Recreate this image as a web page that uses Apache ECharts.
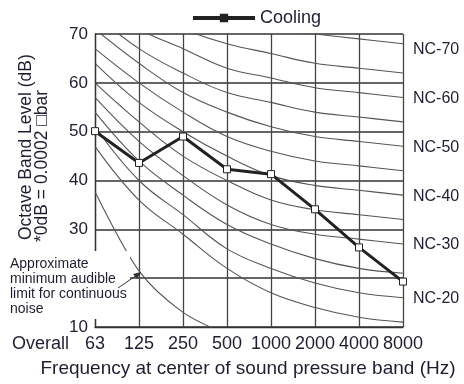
<!DOCTYPE html>
<html><head><meta charset="utf-8">
<script src="https://cdn.jsdelivr.net/npm/echarts@6/dist/echarts.min.js"></script>
<style>html,body{margin:0;padding:0;background:#fff}#c{width:464px;height:384px}</style>
</head><body><div id="c"></div>
<script>
const categories = ['63','125','250','500','1000','2000','4000','8000'];
const cooling = [50.1, 43.6, 49.0, 42.3, 41.3, 34.1, 26.3, 19.3];
const threshold = [37.7, 21.5, 13.0, 8.5];
const nc15 = [47,36,29,22,17,14,12,11];
const nc20 = [51,40,33,26,22,19,17,16];
const nc25 = [54,44,37,31,27,24,22,21];
const nc30 = [57,48,41,35,31,29,28,27];
const nc35 = [60,52,45,40,36,34,33,32];
const nc40 = [64,56,50,45,41,39,38,37];
const nc45 = [67,60,54,49,46,44,43,42];
const nc50 = [71,64,58,54,51,49,48,47];
const nc55 = [74,67,62,58,56,54,53,52];
const nc60 = [77,71,67,63,61,59,58,57];
const nc65 = [80,75,71,68,66,64,63,62];
const nc70 = [83,79,75,72,71,70,69,68];
const ncCurves = [['NC-15',nc15],['NC-20',nc20],['NC-25',nc25],['NC-30',nc30],['NC-35',nc35],['NC-40',nc40],['NC-45',nc45],['NC-50',nc50],['NC-55',nc55],['NC-60',nc60],['NC-65',nc65],['NC-70',nc70]];
const labeledCurves = ['NC-20','NC-30','NC-40','NC-50','NC-60','NC-70'];
const yMin = 10, yMax = 70, yStep = 10;

const TXT = '#1e1e30';
const FONT = 'Liberation Sans, Arial, sans-serif';

const chart = echarts.init(document.getElementById('c'), null, {renderer:'canvas'});
const series = ncCurves.map(([name, data]) => ({
  name, type:'line', data, smooth:0.4, symbol:'none', silent:true,
  lineStyle:{color:'#555', width:1.1},
  endLabel:{show: labeledCurves.includes(name), formatter:name, distance:10, color:TXT, fontSize:16, fontFamily:FONT,
    offset: name==='NC-70' ? [0,6] : [0,1]},
  z:2
}));
series.push({name:'threshold', type:'line', data:threshold, smooth:0.3, symbol:'none', silent:true,
  lineStyle:{color:'#555', width:1.1}, z:2});
series.push({name:'Cooling', type:'line', data:cooling, symbol:'rect', symbolSize:7,
  itemStyle:{color:'#fff', borderColor:'#222', borderWidth:1},
  lineStyle:{color:'#222', width:3}, z:5});

chart.setOption({
  animation:false,
  textStyle:{fontFamily:FONT},
  legend:{data:[{name:'Cooling', itemStyle:{color:'#222', borderColor:'#222'}, lineStyle:{width:4, color:'#222'}}], top:4, left:186, itemWidth:62, itemHeight:8, itemGap:9,
    textStyle:{fontSize:18, color:TXT, fontFamily:FONT}},
  grid:{left:95, right:61, top:34, bottom:57, containLabel:false},
  xAxis:{type:'category', data:categories, boundaryGap:false,
    axisLine:{show:true, lineStyle:{color:'#333', width:1.3}},
    axisTick:{show:false},
    axisLabel:{color:TXT, fontSize:18, fontFamily:FONT, margin:8, interval:0},
    splitLine:{show:true, lineStyle:{color:'#444', width:1.3}}},
  yAxis:{type:'value', min:yMin, max:yMax, interval:yStep,
    axisLine:{show:true, lineStyle:{color:'#333', width:1.3}},
    axisTick:{show:false},
    axisLabel:{color:TXT, fontSize:17, fontFamily:FONT, margin:7, padding:[8,0,0,0]},
    splitLine:{show:true, lineStyle:{color:'#333', width:1.5}}},
  graphic:[
    {type:'rect', z:100, shape:{x:4, y:251, width:126, height:68}, style:{fill:'#fff'}},
    {type:'text', z:101, left:10, top:257, style:{text:'Approximate\nminimum audible\nlimit for continuous\nnoise', fill:TXT, fontSize:14, lineHeight:15, fontFamily:FONT}},
    {type:'line', z:101, shape:{x1:118, y1:288, x2:137, y2:275}, style:{stroke:'#333', lineWidth:1}},
    {type:'polygon', z:101, shape:{points:[[141,272],[133,274],[137,279]]}, style:{fill:'#333'}},
    {type:'text', z:101, x:26, y:240, rotation:Math.PI/2, style:{text:'Octave Band Level (dB)', fill:TXT, fontSize:17.5, fontFamily:FONT, align:'left', verticalAlign:'middle'}},
    {type:'text', z:101, x:42, y:242, rotation:Math.PI/2, style:{text:'*0dB = 0.0002 \u25A1bar', fill:TXT, fontSize:17.5, fontFamily:FONT, align:'left', verticalAlign:'middle'}},
    {type:'text', z:101, x:12, y:344, style:{text:'Overall', fill:TXT, fontSize:18, fontFamily:FONT, align:'left', verticalAlign:'middle'}},
    {type:'text', z:101, x:248, y:369, style:{text:'Frequency at center of sound pressure band (Hz)', fill:TXT, fontSize:19, fontFamily:FONT, align:'center', verticalAlign:'middle'}}
  ],
  series
});
</script></body></html>
